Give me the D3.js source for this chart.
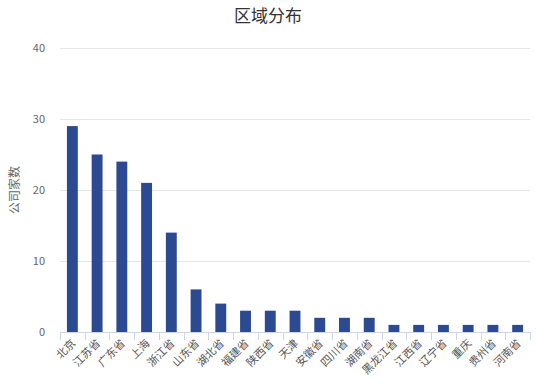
<!DOCTYPE html>
<html><head><meta charset="utf-8">
<script src="https://cdn.jsdelivr.net/npm/d3@7"></script>
<style>body{margin:0;background:#fff;}svg{display:block;font-family:"Noto Sans CJK SC","Noto Sans",sans-serif;}</style>
</head><body><svg id="c" width="536" height="383"></svg>
<script>
const categories = ["北京","江苏省","广东省","上海","浙江省","山东省","湖北省","福建省","陕西省","天津","安徽省","四川省","湖南省","黑龙江省","江西省","辽宁省","重庆","贵州省","河南省"];
const values = [29,25,24,21,14,6,4,3,3,3,2,2,2,1,1,1,1,1,1];
const yTicks = [0,10,20,30,40];
const title = "区域分布";
const yTitle = "公司家数";

const svg = d3.select("#c");
const m = {l:60, r:530, t:48, b:332};
const x = d3.scaleBand().domain(categories).range([m.l, m.r]).paddingInner(0.56).paddingOuter(0.28);
const xb = d3.scaleBand().domain(categories).range([m.l, m.r]);
const y = d3.scaleLinear().domain([0,40]).range([m.b, m.t]);

svg.append("text").attr("x",268).attr("y",22).attr("text-anchor","middle")
  .attr("font-size",17).attr("fill","#333").text(title);

// grid
svg.append("g").selectAll("line").data(yTicks.filter(d=>d>0)).join("line")
  .attr("x1",m.l).attr("x2",m.r).attr("y1",d=>y(d)+0.5).attr("y2",d=>y(d)+0.5)
  .attr("stroke","#e6e6e6");
svg.append("g").selectAll("text").data(yTicks).join("text")
  .attr("x",45).attr("y",d=>y(d)+4).attr("text-anchor","end")
  .attr("font-size",11).attr("fill","#666").text(d=>d);

svg.append("text").attr("transform",`translate(19,${(m.t+m.b)/2}) rotate(-90)`)
  .attr("text-anchor","middle").attr("font-size",12).attr("fill","#666").text(yTitle);

// bars
svg.append("g").selectAll("rect").data(values).join("rect")
  .attr("x",(d,i)=>x(categories[i])).attr("width",x.bandwidth())
  .attr("y",d=>y(d)).attr("height",d=>y(0)-y(d)).attr("fill","#2c4a92");

// x axis
const ax = svg.append("g");
ax.append("line").attr("x1",m.l).attr("x2",m.r).attr("y1",m.b+0.5).attr("y2",m.b+0.5).attr("stroke","#ccd6eb");
const bounds = categories.map(c=>xb(c)).concat([m.r]);
ax.selectAll("line.t").data(bounds).join("line").attr("class","t")
  .attr("x1",d=>Math.round(d)+0.5).attr("x2",d=>Math.round(d)+0.5)
  .attr("y1",m.b).attr("y2",m.b+8).attr("stroke","#ccd6eb");
ax.selectAll("text").data(categories).join("text")
  .attr("transform",c=>`translate(${xb(c)+xb.bandwidth()/2+4},${m.b+12}) rotate(-45)`)
  .attr("text-anchor","end").attr("font-size",11).attr("fill","#555").text(c=>c);
</script></body></html>
